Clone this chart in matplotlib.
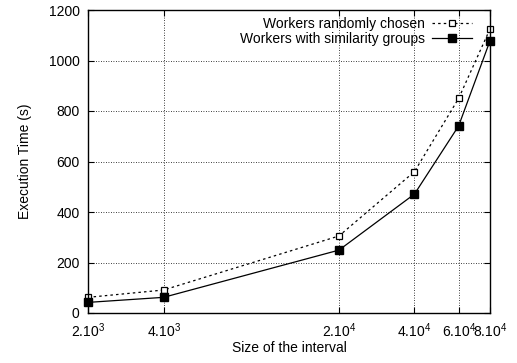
import matplotlib
matplotlib.use("Agg")
import matplotlib.pyplot as plt
from matplotlib.ticker import NullLocator

plt.rcParams["font.family"] = ["Liberation Sans", "DejaVu Sans"]
plt.rcParams["mathtext.default"] = "regular"

# interval sizes (log x axis)
sizes = [2000, 4000, 20000, 40000, 60000, 80000]
random_time = [62, 91, 305, 560, 850, 1125]
similarity_time = [42, 62, 249, 471, 741, 1078]

xtick_labels = ["2.10$^3$", "4.10$^3$", "2.10$^4$", "4.10$^4$", "6.10$^4$", "8.10$^4$"]
yticks = [0, 200, 400, 600, 800, 1000, 1200]

fig = plt.figure(figsize=(5.17, 3.63), dpi=100)
ax = fig.add_axes([88 / 517, 50 / 363, 402 / 517, 303 / 363])

ax.plot(sizes, random_time, linestyle=(0, (2, 2.5)), color="black", lw=0.9,
        marker="s", markersize=4.5, markerfacecolor="white",
        markeredgecolor="black", markeredgewidth=0.9, clip_on=False,
        label="Workers randomly chosen")
ax.plot(sizes, similarity_time, linestyle="-", color="black", lw=0.9,
        marker="s", markersize=5.5, markerfacecolor="black",
        markeredgecolor="black", clip_on=False,
        label="Workers with similarity groups")

ax.set_xscale("log")
ax.set_xlim(2000, 80000)
ax.set_ylim(0, 1200)
ax.set_xticks(sizes)
ax.set_xticklabels(xtick_labels)
ax.xaxis.set_minor_locator(NullLocator())
ax.set_yticks(yticks)

ax.grid(True, which="major", color="black", linestyle=(0, (1, 2)), lw=0.6)
ax.tick_params(direction="in", top=True, right=True, length=4, width=0.8,
               labelsize=10)
ax.tick_params(axis="x", pad=6)
ax.tick_params(axis="y", pad=6)
for s in ax.spines.values():
    s.set_linewidth(1.0)

ax.set_xlabel("Size of the interval", fontsize=10, labelpad=1)
ax.set_ylabel("Execution Time (s)", fontsize=10, labelpad=12)

leg = ax.legend(loc="upper right", fontsize=10, frameon=False,
                markerfirst=False, handlelength=2.9, borderaxespad=0.0,
                bbox_to_anchor=(0.97, 0.995),
                labelspacing=0.05, handletextpad=0.5)
for t in leg.get_texts():
    t.set_ha("right")
leg._legend_box.align = "right"

fig.savefig("out.png", dpi=100)
